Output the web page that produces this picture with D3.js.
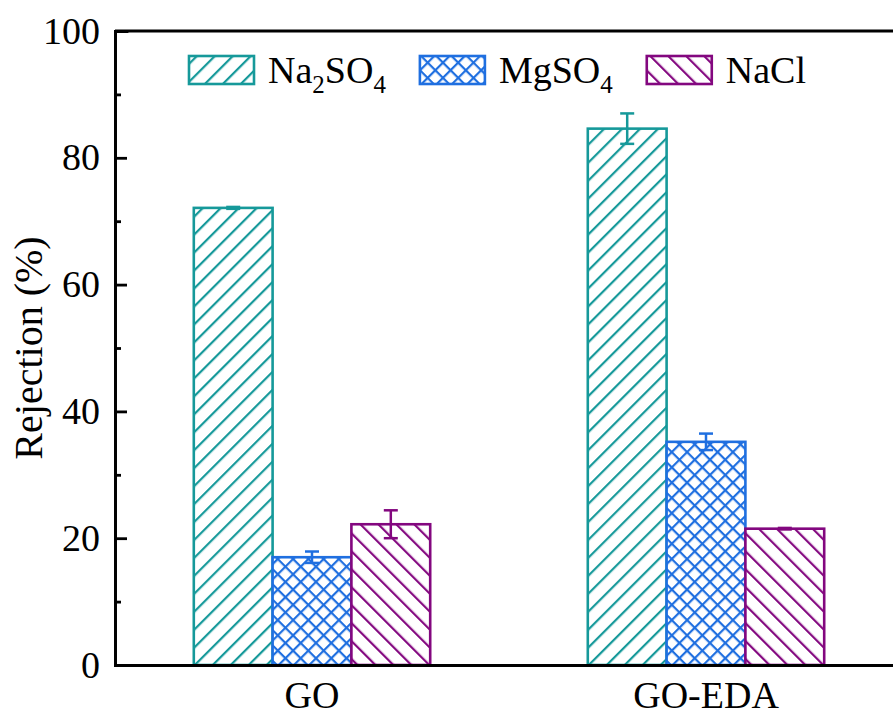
<html>
<head>
<meta charset="utf-8">
<script src="https://cdn.jsdelivr.net/npm/d3@7"></script>
</head>
<body style="margin:0">
<svg id="chart" width="893" height="715"></svg>
<script>
// data
const categories = ["GO", "GO-EDA"];
const seriesKeys = ["Na2SO4", "MgSO4", "NaCl"];
const seriesColors = ["#16999a", "#1f6fe0", "#83077f"];
const seriesPatterns = ["hatch-fwd", "hatch-cross", "hatch-back"];
const na2so4 = [72.1, 84.6];
const na2so4Err = [0.15, 2.4];
const mgso4 = [17.0, 35.2];
const mgso4Err = [0.9, 1.3];
const nacl = [22.2, 21.5];
const naclErr = [2.2, 0.12];
const yTicks = [0, 20, 40, 60, 80, 100];
const yMinorTicks = [10, 30, 50, 70, 90];

const values = [na2so4, mgso4, nacl];
const errors = [na2so4Err, mgso4Err, naclErr];

// legend labels with subscripts: [text, isSub]
const legendParts = [
    [["Na", false], ["2", true], ["SO", false], ["4", true]],
    [["MgSO", false], ["4", true]],
    [["NaCl", false]]
];

const FONT = "'Liberation Serif'";
const margin = {left: 115, top: 31, bottom: 665, right: 903};
const svg = d3.select("#chart");

// hatch patterns
const defs = svg.append("defs");
seriesPatterns.forEach((id, i) => {
    let spacing = i === 1 ? 10.8 : 12.7;
    let p = defs.append("pattern")
        .attr("id", id)
        .attr("patternUnits", "userSpaceOnUse")
        .attr("width", spacing)
        .attr("height", spacing)
        .attr("patternTransform", "rotate(" + (i === 2 ? -45 : 45) + ")");
    p.append("rect").attr("width", spacing).attr("height", spacing).attr("fill", "#fff");
    p.append("line")
        .attr("x1", 0).attr("y1", -1).attr("x2", 0).attr("y2", spacing + 1)
        .attr("stroke", seriesColors[i]).attr("stroke-width", 4.4);
    if (i === 1)
        p.append("line")
            .attr("x1", -1).attr("y1", 0).attr("x2", spacing + 1).attr("y2", 0)
            .attr("stroke", seriesColors[i]).attr("stroke-width", 4.4);
});

// scales
let x0 = d3.scaleBand()
    .domain(categories)
    .range([margin.left, margin.right])
    .paddingInner(0.4)
    .paddingOuter(0.2);

let x1 = d3.scaleBand()
    .domain(seriesKeys)
    .range([0, x0.bandwidth()])
    .padding(0);

let y = d3.scaleLinear()
    .domain([0, 100])
    .range([margin.bottom, margin.top]);

// bars
let groups = svg.append("g").selectAll("g")
    .data(categories)
    .enter().append("g")
    .attr("transform", d => "translate(" + x0(d) + ",0)");

seriesKeys.forEach((key, s) => {
    groups.append("rect")
        .attr("x", x1(key))
        .attr("width", x1.bandwidth())
        .attr("y", (d, i) => y(values[s][i]))
        .attr("height", (d, i) => y(0) - y(values[s][i]))
        .attr("fill", "url(#" + seriesPatterns[s] + ")")
        .attr("stroke", seriesColors[s])
        .attr("stroke-width", 2.6);
});

// error bars
seriesKeys.forEach((key, s) => {
    let cx = x1(key) + x1.bandwidth() / 2;
    let eb = groups.append("g")
        .attr("stroke", seriesColors[s])
        .attr("stroke-width", 2.5)
        .attr("fill", "none");
    eb.append("line")
        .attr("x1", cx).attr("x2", cx)
        .attr("y1", (d, i) => y(values[s][i] - errors[s][i]))
        .attr("y2", (d, i) => y(values[s][i] + errors[s][i]));
    [-1, 1].forEach(sign => {
        eb.append("line")
            .attr("x1", cx - 7).attr("x2", cx + 7)
            .attr("y1", (d, i) => y(values[s][i] + sign * errors[s][i]))
            .attr("y2", (d, i) => y(values[s][i] + sign * errors[s][i]));
    });
});

// y axis, ticks pointing inward
let yAxis = svg.append("g")
    .attr("transform", "translate(" + margin.left + ",0)")
    .call(d3.axisLeft(y).tickValues(yTicks).tickSize(-12).tickPadding(15));
yAxis.selectAll("text")
    .attr("font-size", 38)
    .attr("fill", "#000");

svg.append("g")
    .attr("transform", "translate(" + margin.left + ",0)")
    .call(d3.axisLeft(y).tickValues(yMinorTicks).tickSize(-6).tickFormat(""));

// x axis, no ticks
let xAxis = svg.append("g")
    .attr("transform", "translate(0," + margin.bottom + ")")
    .call(d3.axisBottom(x0).tickSize(0).tickPadding(16));
xAxis.selectAll("text")
    .attr("font-size", 38)
    .attr("fill", "#000");

// top frame line
svg.append("line")
    .attr("x1", margin.left).attr("x2", margin.right)
    .attr("y1", y(100)).attr("y2", y(100))
    .attr("stroke", "#000");

svg.selectAll(".domain, .tick line, svg > line")
    .attr("stroke", "#000")
    .attr("stroke-width", 2.8);
svg.selectAll(".domain").attr("stroke-linecap", "square");

// y axis title
svg.append("text")
    .attr("x", 0)
    .attr("y", 0)
    .attr("font-size", 40)
    .attr("text-anchor", "middle")
    .attr("transform", "translate(42," + ((margin.top + margin.bottom) / 2) + ") rotate(-90)")
    .text("Rejection (%)");

// legend
let lx = 189;
legendParts.forEach((parts, s) => {
    svg.append("rect")
        .attr("x", lx).attr("y", 56)
        .attr("width", 65).attr("height", 28)
        .attr("fill", "url(#" + seriesPatterns[s] + ")")
        .attr("stroke", seriesColors[s])
        .attr("stroke-width", 2.6);
    let t = svg.append("text")
        .attr("x", lx + 79)
        .attr("y", 83)
        .style("font-family", FONT)
        .attr("font-size", 38);
    let shifted = false;
    parts.forEach(([txt, sub]) => {
        let ts = t.append("tspan").text(txt);
        if (sub && !shifted) { ts.attr("dy", 10).attr("font-size", 25); shifted = true; }
        else if (sub) ts.attr("font-size", 25);
        else if (shifted) { ts.attr("dy", -10); shifted = false; }
    });
    lx += 79 + t.node().getComputedTextLength() + 34;
});

// one font for every text and tspan
svg.selectAll("text, tspan").style("font-family", FONT);
</script>
</body>
</html>
